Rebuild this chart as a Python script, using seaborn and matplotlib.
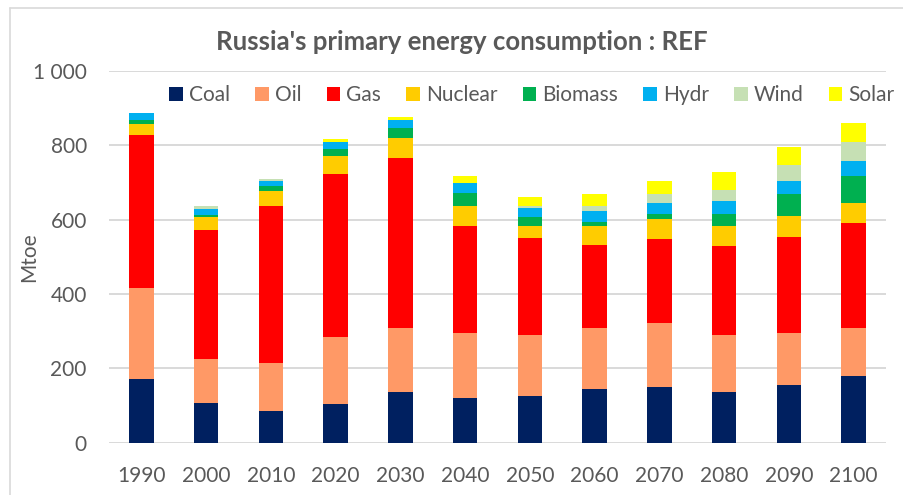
import numpy as np
import pandas as pd
import matplotlib
matplotlib.use("Agg")
import matplotlib.pyplot as plt
from matplotlib.lines import Line2D
from matplotlib.ticker import FuncFormatter
import seaborn as sns

# data (Mtoe)
years   = ["1990", "2000", "2010", "2020", "2030", "2040",
           "2050", "2060", "2070", "2080", "2090", "2100"]
coal    = [172, 107,  84, 103, 137, 120, 125, 144, 149, 137, 155, 179]
oil     = [243, 119, 130, 182, 171, 176, 166, 164, 172, 154, 141, 129]
gas     = [413, 346, 422, 438, 457, 286, 261, 225, 227, 239, 258, 283]
nuclear = [ 29,  36,  42,  49,  56,  56,  30,  49,  55,  54,  55,  55]
biomass = [ 12,   4,  12,  18,  25,  34,  24,  13,  12,  30,  60,  71]
hydr    = [ 18,  17,  15,  18,  23,  26,  25,  29,  30,  36,  36,  42]
wind    = [  0,   7,   5,   1,   0,   1,   7,  14,  24,  31,  42,  49]
solar   = [  0,   0,   0,   8,   7,  18,  24,  30,  36,  48,  48,  52]

series = ["Coal", "Oil", "Gas", "Nuclear", "Biomass", "Hydr", "Wind", "Solar"]
values = [coal, oil, gas, nuclear, biomass, hydr, wind, solar]
colors = ["#002060", "#FF9966", "#FF0000", "#FFCC00",
          "#00B050", "#00B0F0", "#C6E0B4", "#FFFF00"]

GREY = "#595959"
GRID = "#D9D9D9"

sns.set_theme(style="white")
plt.rcParams["font.family"] = ["Lato", "DejaVu Sans"]

fig = plt.figure(figsize=(9.04, 4.95), dpi=100, facecolor="white")
ax = fig.add_axes([0.1206, 0.1057, 0.8595, 0.7509])

bottom = np.zeros(len(years))
for name, vals, col in zip(series, values, colors):
    df = pd.DataFrame({"year": years, "val": vals})
    sns.barplot(data=df, x="year", y="val", order=years, color=col,
                width=0.38, bottom=bottom, label=name, ax=ax,
                saturation=1, errorbar=None, linewidth=0)
    bottom = bottom + np.array(vals)

ax.set_ylim(0, 1000)
ax.set_xlim(-0.5, len(years) - 0.5)
ax.set_yticks(range(0, 1001, 200))
ax.yaxis.set_major_formatter(FuncFormatter(
    lambda v, p: f"{int(v):,}".replace(",", " ")))
ax.yaxis.grid(True, color=GRID, linewidth=1.4)
ax.set_axisbelow(True)
sns.despine(ax=ax, left=True, bottom=True)
ax.tick_params(axis="both", length=0, labelsize=15, labelcolor=GREY)
ax.tick_params(axis="x", pad=17)
ax.tick_params(axis="y", pad=16)
ax.set_xlabel("")
ax.set_ylabel("Mtoe", fontsize=15, color=GREY, va="center")
ax.yaxis.set_label_coords(-0.103, 0.5)

leg = ax.legend(ncol=8, loc="center", bbox_to_anchor=(0.5885, 0.808),
                bbox_transform=fig.transFigure, frameon=False,
                fontsize=15, labelcolor=GREY, handlelength=0.65,
                handleheight=0.65, handletextpad=0.3, columnspacing=1.2,
                borderpad=0, borderaxespad=0)

fig.text(0.5105, 0.915, "Russia's primary energy consumption : REF",
         ha="center", va="center", fontsize=18.5, fontweight="bold",
         color=GREY)

# chart-area border (left and top edges visible)
fig.add_artist(Line2D([0.011, 0.011], [0, 0.984], color=GRID, lw=1.2,
                      transform=fig.transFigure))
fig.add_artist(Line2D([0.011, 1], [0.984, 0.984], color=GRID, lw=1.2,
                      transform=fig.transFigure))

fig.savefig("out.png", dpi=100, facecolor="white")
